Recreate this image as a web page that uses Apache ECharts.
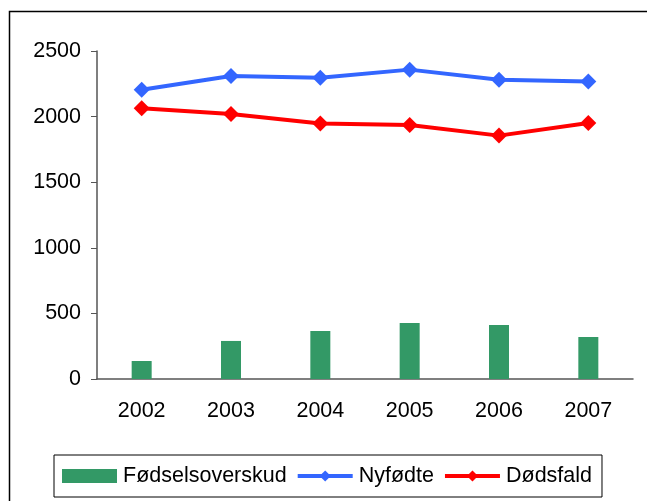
<!DOCTYPE html>
<html lang="da">
<head>
    <meta charset="UTF-8">
    <title>Fødselsoverskud</title>
    <script src="https://cdn.jsdelivr.net/npm/echarts@6/dist/echarts.min.js"></script>
    <style>
        html, body { margin: 0; padding: 0; background: #fff; }
    </style>
</head>
<body>
    <div id="main" style="width: 647px; height: 501px;"></div>
    <script type="text/javascript">
        // Data
        const years = ['2002', '2003', '2004', '2005', '2006', '2007'];
        const overskud = [137, 290, 366, 427, 411, 320];
        const nyfodte = [2205, 2310, 2296, 2358, 2281, 2268];
        const dodsfald = [2063, 2020, 1948, 1936, 1855, 1951];

        const font = '"Liberation Sans", Arial, sans-serif';
        let myChart = echarts.init(document.getElementById('main'));

        const options = {
            animation: false,
            textStyle: { fontFamily: font },
            graphic: [{
                type: 'rect',
                left: 7, top: 9,
                shape: { width: 700, height: 600 },
                style: { fill: 'none', stroke: '#000', lineWidth: 1.5 },
                silent: true
            }],
            legend: {
                left: 54, top: 455,
                padding: [10, 10, 10, 8],
                borderColor: '#000', borderWidth: 1,
                itemWidth: 55, itemHeight: 14, itemGap: 9,
                lineStyle: { width: 4 },
                textStyle: { fontSize: 21.5, color: '#000', fontFamily: font, lineHeight: 22, padding: [0, 0, 0, 1] },
                data: [{ name: 'Fødselsoverskud', icon: 'rect' }, 'Nyfødte', 'Dødsfald']
            },
            grid: { left: 97, right: 14, top: 51, bottom: 122, containLabel: false },
            xAxis: {
                type: 'category',
                data: years,
                axisLine: { lineStyle: { color: '#555', width: 1.5 } },
                axisTick: { length: 6, lineStyle: { color: '#555' } },
                axisLabel: { fontSize: 21.5, color: '#000', margin: 21 }
            },
            yAxis: {
                type: 'value',
                min: 0, max: 2500, interval: 500,
                splitLine: { show: false },
                axisLine: { show: true, lineStyle: { color: '#555', width: 1.5 } },
                axisTick: { show: true, length: 6, lineStyle: { color: '#555' } },
                axisLabel: { fontSize: 21.5, color: '#000', margin: 16, formatter: v => String(v) }
            },
            series: [{
                name: 'Fødselsoverskud',
                type: 'bar',
                data: overskud,
                barWidth: 20,
                itemStyle: { color: '#339966' }
            }, {
                name: 'Nyfødte',
                type: 'line',
                data: nyfodte,
                symbol: 'diamond',
                symbolSize: 16,
                lineStyle: { color: '#3366FF', width: 4 },
                itemStyle: { color: '#3366FF' }
            }, {
                name: 'Dødsfald',
                type: 'line',
                data: dodsfald,
                symbol: 'diamond',
                symbolSize: 16,
                lineStyle: { color: '#FF0000', width: 4 },
                itemStyle: { color: '#FF0000' }
            }]
        };

        myChart.setOption(options);
    </script>
</body>
</html>
